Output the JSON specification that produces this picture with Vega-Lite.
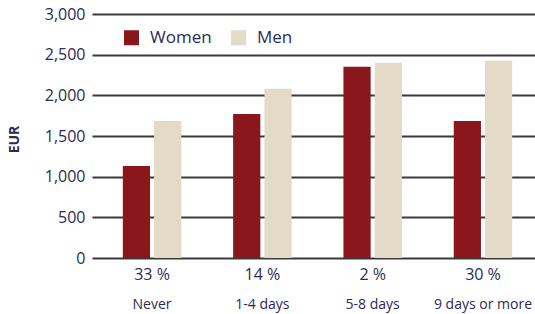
{
  "$schema": "https://vega.github.io/schema/vega-lite/v6.json",
  "width": 443,
  "height": 244,
  "autosize": {"type": "none"},
  "padding": {"left": 92, "top": 14, "right": 0, "bottom": 56},
  "background": "white",
  "config": {
    "font": "Open Sans",
    "view": {"stroke": null},
    "axis": {"labelColor": "#2d2a55", "titleColor": "#2d2a55"}
  },
  "datasets": {
    "bars": [
      {"category": "Never", "sex": "Women", "eur": 1130},
      {"category": "Never", "sex": "Men", "eur": 1685},
      {"category": "1-4 days", "sex": "Women", "eur": 1770},
      {"category": "1-4 days", "sex": "Men", "eur": 2080},
      {"category": "5-8 days", "sex": "Women", "eur": 2350},
      {"category": "5-8 days", "sex": "Men", "eur": 2400},
      {"category": "9 days or more", "sex": "Women", "eur": 1685},
      {"category": "9 days or more", "sex": "Men", "eur": 2425}
    ],
    "pcts": [
      {"category": "Never", "pct": "33 %"},
      {"category": "1-4 days", "pct": "14 %"},
      {"category": "5-8 days", "pct": "2 %"},
      {"category": "9 days or more", "pct": "30 %"}
    ]
  },
  "layer": [
    {
      "data": {"name": "bars"},
      "mark": {"type": "bar"},
      "encoding": {
        "x": {
          "field": "category", "type": "nominal",
          "sort": ["Never", "1-4 days", "5-8 days", "9 days or more"],
          "scale": {"paddingInner": 0.47, "paddingOuter": 0.243, "align": 0.575},
          "axis": {"title": null, "domain": false, "ticks": false, "labelAngle": 0, "labelFontSize": 14, "labelPadding": 39}
        },
        "xOffset": {
          "field": "sex", "type": "nominal",
          "sort": ["Women", "Men"],
          "scale": {"paddingInner": 0.13, "paddingOuter": 0}
        },
        "y": {
          "field": "eur", "type": "quantitative",
          "scale": {"domain": [0, 3000], "nice": false},
          "axis": {
            "title": "EUR", "titleFontSize": 14, "titleFontWeight": "bold",
            "titleX": -71, "titleY": 125,
            "values": [0, 500, 1000, 1500, 2000, 2500, 3000],
            "format": ",d",
            "domain": false, "ticks": false, "labelFontSize": 16, "labelPadding": 7,
            "grid": true, "gridColor": "#3a3a3a", "gridWidth": 2, "gridOpacity": 1
          }
        },
        "color": {
          "field": "sex", "type": "nominal",
          "sort": ["Women", "Men"],
          "scale": {"domain": ["Women", "Men"], "range": ["#8a171c", "#e3dac8"]},
          "legend": {
            "title": null, "orient": "none", "direction": "horizontal",
            "legendX": 31, "legendY": 15,
            "symbolType": "square", "symbolSize": 225, "symbolStrokeWidth": 0, "symbolOpacity": 1,
            "labelFontSize": 17, "labelColor": "#2d2a55", "labelOffset": 10, "columnPadding": 18
          }
        }
      }
    },
    {
      "data": {"name": "pcts"},
      "mark": {"type": "text", "dy": 17, "fontSize": 16, "color": "#2d2a55", "baseline": "middle"},
      "encoding": {
        "x": {"field": "category", "type": "nominal", "sort": ["Never", "1-4 days", "5-8 days", "9 days or more"]},
        "y": {"datum": 0},
        "text": {"field": "pct"}
      }
    }
  ]
}
